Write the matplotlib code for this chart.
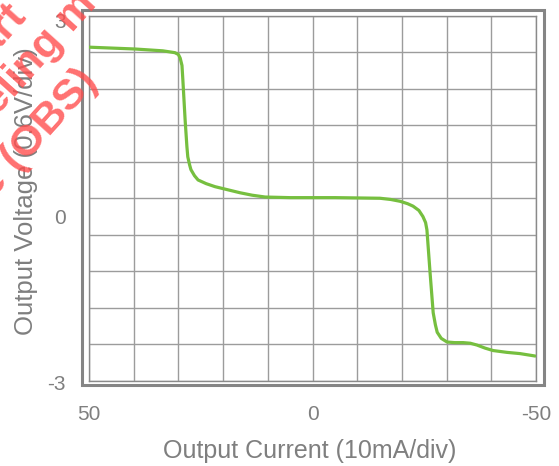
import matplotlib
matplotlib.use("Agg")
import matplotlib.pyplot as plt
import matplotlib.transforms as mtransforms
from matplotlib.patches import Rectangle

# output current (10mA/div) and output voltage (0.6V/div)
current = [50, 39.7, 33.5, 30.8, 30.0, 29.6, 29.2, 29.0, 28.5, 28.1, 27.9,
           27.5, 27.2, 26.4, 25.6, 23.8, 21.8, 19.0, 16.2, 13.5, 10.6, 5.0,
           2.8, -5.0, -15.1, -17.5, -19.6, -21.3, -22.5, -23.8, -24.7, -25.3,
           -25.6, -26.3, -27.0, -27.5, -27.9, -28.8, -30.1, -31.8, -33.7,
           -35.3, -36.8, -38.6, -40.4, -43.5, -46.4, -49.8]
voltage = [2.48, 2.45, 2.42, 2.39, 2.36, 2.30, 2.18, 1.94, 1.29, 0.85, 0.68,
           0.55, 0.47, 0.37, 0.30, 0.24, 0.19, 0.14, 0.09, 0.05, 0.02, 0.01,
           0.01, 0.01, 0.0, -0.02, -0.05, -0.09, -0.13, -0.20, -0.30, -0.40,
           -0.52, -1.22, -1.88, -2.08, -2.20, -2.30, -2.36, -2.37, -2.37,
           -2.38, -2.41, -2.46, -2.50, -2.53, -2.55, -2.59]

xticks = [50, 0, -50]
xtick_labels = ["50", "0", "-50"]
yticks = [3, 0, -3]
ytick_labels = ["3", "0", "-3"]

plt.rcParams["font.family"] = ["Liberation Sans", "DejaVu Sans"]

text_gray = "#7f7f7f"
grid_gray = "#9c9c9c"
green = "#76bf3f"
W, H = 559, 466
px = 1 / 100  # one pixel in inches at dpi 100

fig = plt.figure(figsize=(W / 100, H / 100), dpi=100)
ax = fig.add_axes([89 / W, 1 - 381 / H, 447 / W, 365.5 / H])

ax.plot(current, voltage, color=green, lw=2.3, solid_joinstyle="round",
        solid_capstyle="round", zorder=3)

ax.set_xlim(50, -50)
ax.set_ylim(-3, 3)
ax.set_xticks(range(50, -51, -10))
ax.set_yticks([-3 + 0.6 * i for i in range(11)])
ax.grid(True, color=grid_gray, lw=1.0)
ax.tick_params(length=0, labelbottom=False, labelleft=False)
for sp in ax.spines.values():
    sp.set_color("#8a8a8a")
    sp.set_linewidth(1.0)

# only a few divisions carry a label, so they are drawn as text
for xv, lab in zip(xticks, xtick_labels):
    ax.text(xv, 0, lab, ha="center", va="baseline", fontsize=15,
            color=text_gray,
            transform=ax.get_xaxis_transform() + mtransforms.ScaledTranslation(
                0, -39 * px, fig.dpi_scale_trans))

ydrops = [12, 26, 9.5]
for yv, lab, dy in zip(yticks, ytick_labels, ydrops):
    ax.text(0, yv, lab, ha="right", va="baseline", fontsize=15,
            color=text_gray,
            transform=ax.get_yaxis_transform() + mtransforms.ScaledTranslation(
                -23 * px, -dy * px, fig.dpi_scale_trans))

# double frame around the plot area
fig.add_artist(Rectangle((81.5 / W, 1 - 385 / H), 462 / W, 375.5 / H,
                         transform=fig.transFigure, fill=False,
                         edgecolor="#858585", lw=2.2))

fig.text(310 / W, 1 - 458.3 / H, "Output Current (10mA/div)", ha="center",
         va="baseline", fontsize=18, color=text_gray)
fig.text(33 / W, 1 - 191 / H, "Output Voltage (0.6V/div)", ha="center",
         va="baseline", rotation=90, rotation_mode="anchor", fontsize=18.5,
         color=text_gray)

# red status stamp in the top-left corner
stamp = dict(color="#ff4d4d", alpha=0.8, fontsize=31, fontweight="bold",
             rotation=48, rotation_mode="anchor", va="baseline")
fig.text(27 / W, 1 - 15.8 / H, "Part", ha="right", **stamp)
fig.text(-61.6 / W, 1 - 181.8 / H, "Modeling model", ha="left", **stamp)
fig.text(99.1 / W, 1 - 82.2 / H, "Obsolete (OBS)", ha="right", **stamp)

fig.savefig("out.png", dpi=100)
